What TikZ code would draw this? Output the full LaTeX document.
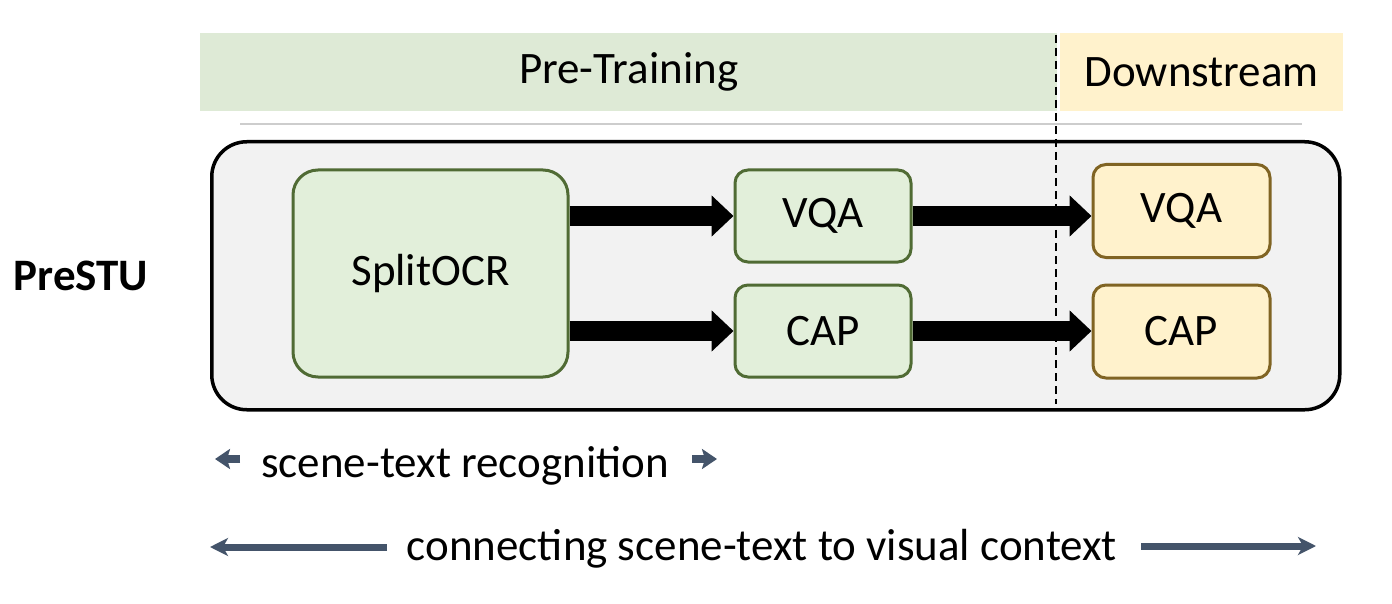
\documentclass[tikz,border=0pt]{standalone}
\usepackage{fontspec}
\setmainfont{Carlito}
\usetikzlibrary{arrows.meta}
\definecolor{hdrgreen}{RGB}{222,234,214}
\definecolor{hdryellow}{RGB}{255,242,204}
\definecolor{boxgreen}{RGB}{226,239,218}
\definecolor{edgegreen}{RGB}{80,107,52}
\definecolor{boxyellow}{RGB}{255,242,204}
\definecolor{edgeyellow}{RGB}{128,100,35}
\definecolor{outerfill}{RGB}{242,242,242}
\definecolor{slate}{RGB}{68,84,106}
\definecolor{rulegray}{RGB}{205,205,205}
\tikzset{
  txt/.style={font=\fontsize{45}{53}\selectfont, inner sep=0pt},
  hdr/.style={txt, minimum height=78pt, anchor=north west},
  gbox/.style={txt, draw=edgegreen, fill=boxgreen, line width=3pt, rounded corners=13pt, minimum width=176pt, minimum height=92pt},
  ybox/.style={txt, draw=edgeyellow, fill=boxyellow, line width=3pt, rounded corners=13pt, minimum width=177pt, minimum height=93pt},
  bigarrow/.style={line width=20pt, -{Triangle[width=40pt,length=22pt]}},
  slatearrow/.style={draw=slate, line width=7pt, -{Stealth[width=18pt,length=18pt,inset=5pt]}},
  smallarrow/.style={draw=slate, line width=8.5pt, -{Stealth[width=20pt,length=15pt,inset=3pt]}},
}
\begin{document}
\begin{tikzpicture}[x=1pt,y=-1pt]
\useasboundingbox (0,0) rectangle (1392,604);
% headers
\node[hdr, fill=hdrgreen, minimum width=857pt] (pre) at (200,33) {Pre-Training};
\node[hdr, fill=hdryellow, minimum width=283pt] (down) at (1060,33) {Downstream};
% thin rule
\coordinate (ruleL) at (240,124);
\coordinate (ruleR) at (1302,124);
\draw[rulegray, line width=1.5pt] (ruleL) -- (ruleR);
% outer box
\node[draw=black, fill=outerfill, line width=3.5pt, rounded corners=35pt, minimum width=1128pt, minimum height=268pt, inner sep=0pt, anchor=north west] (outer) at (210,140) {};
% dashed separator
\coordinate (dashT) at (1056,35);
\coordinate (dashB) at (1056,404);
\draw[black, line width=1.8pt, dash pattern=on 8pt off 5pt] (dashT) -- (dashB);
% label
\node[txt, font=\fontsize{45}{53}\selectfont\bfseries] (prestu) at (81,276) {PreSTU};
% boxes
\node[txt, draw=edgegreen, fill=boxgreen, line width=3pt, rounded corners=25pt, minimum width=275pt, minimum height=207pt] (split) at (430.5,273.5) {SplitOCR};
\node[gbox] (gvqa) at (823,216) {VQA};
\node[gbox] (gcap) at (823,331) {CAP};
\node[ybox] (yvqa) at (1181.5,211) {VQA};
\node[ybox] (ycap) at (1181.5,331.5) {CAP};
% thick arrows
\draw[bigarrow] (split.east |- gvqa.west) -- (gvqa.west);
\draw[bigarrow] (split.east |- gcap.west) -- (gcap.west);
\draw[bigarrow] (gvqa.east) -- (gvqa.east -| yvqa.west);
\draw[bigarrow] (gcap.east) -- (gcap.east -| ycap.west);
% bottom labels
\node[txt, anchor=base] (str) at (465,477) {scene-text recognition};
\node[txt, anchor=base] (conn) at (762,560) {connecting scene-text to visual context};
\coordinate (sa1) at (240,459);
\coordinate (sa2) at (215,459);
\coordinate (sb1) at (692,459);
\coordinate (sb2) at (717,459);
\draw[smallarrow] (sa1) -- (sa2);
\draw[smallarrow] (sb1) -- (sb2);
\coordinate (la1) at (387,547);
\coordinate (la2) at (210,547);
\coordinate (lb1) at (1141,546);
\coordinate (lb2) at (1316,546);
\draw[slatearrow] (la1) -- (la2);
\draw[slatearrow] (lb1) -- (lb2);
\end{tikzpicture}
\end{document}
